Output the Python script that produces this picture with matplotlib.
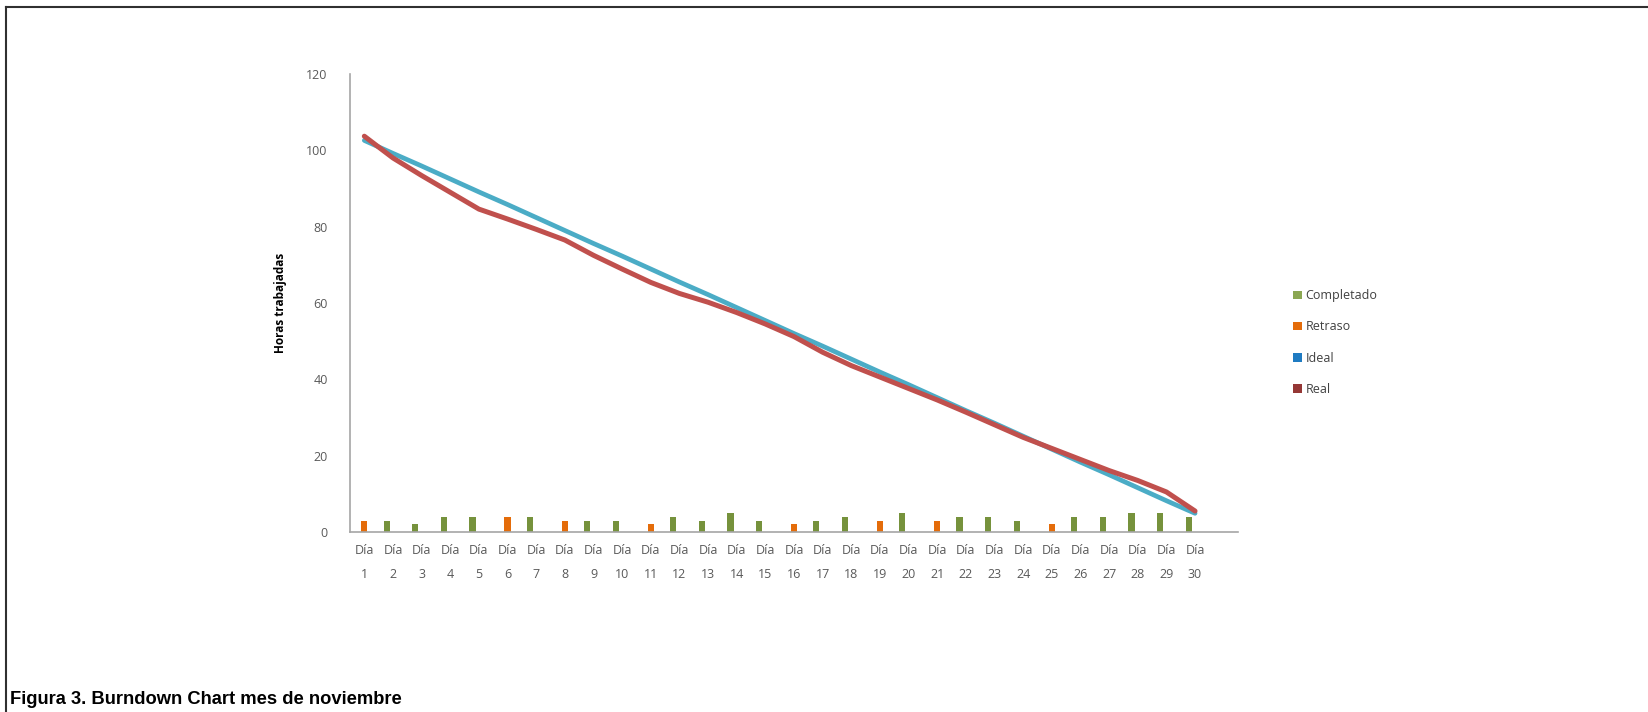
import numpy as np
import matplotlib
matplotlib.use("Agg")
import matplotlib.pyplot as plt
from matplotlib.lines import Line2D
from matplotlib.patches import Patch

# ---- data ----
days = [f"Día\n{i}" for i in range(1, 31)]
completado = [np.nan, 3, 2, 4, 4, np.nan, 4, np.nan, 3, 3, np.nan, 4, 3, 5, 3,
              np.nan, 3, 4, np.nan, 5, np.nan, 4, 4, 3, np.nan, 4, 4, 5, 5, 4]
retraso = [3, np.nan, np.nan, np.nan, np.nan, 4, np.nan, 3, np.nan, np.nan, 2, np.nan, np.nan, np.nan, np.nan,
           2, np.nan, np.nan, 3, np.nan, 3, np.nan, np.nan, np.nan, 2, np.nan, np.nan, np.nan, np.nan, np.nan]
ideal = [102.6, 99.2, 95.9, 92.5, 89.1, 85.8, 82.4, 79.0, 75.6, 72.3, 68.9, 65.5, 62.2, 58.8, 55.4,
         52.0, 48.7, 45.3, 41.9, 38.6, 35.2, 31.8, 28.5, 25.1, 21.7, 18.3, 15.0, 11.6, 8.2, 4.9]
real = [103.7, 98.0, 93.4, 89.0, 84.6, 82.0, 79.3, 76.5, 72.5, 68.9, 65.4, 62.5, 60.2, 57.5, 54.5,
        51.2, 47.1, 43.6, 40.6, 37.6, 34.6, 31.4, 28.1, 24.8, 21.9, 19.0, 16.1, 13.5, 10.5, 5.5]
yticks = [0, 20, 40, 60, 80, 100, 120]

W, H = 1649, 712
fig = plt.figure(figsize=(W / 100, H / 100), dpi=100)
fig.patch.set_facecolor("white")

ax = fig.add_axes([350 / W, (H - 532) / H, (1238 - 350) / W, (532 - 74) / H])
x = np.arange(1, len(days) + 1)

green = "#76923C"
orange = "#E46C0A"
bw = 0.22
ax.bar(x - bw, completado, width=bw, color=green, zorder=2)
ax.bar(x, retraso, width=bw, color=orange, zorder=2)
ax.plot(x, ideal, color="#4BACC6", lw=3.4, solid_capstyle="round", solid_joinstyle="round", zorder=3)
ax.plot(x, real, color="#C0504D", lw=3.6, solid_capstyle="round", solid_joinstyle="round", zorder=4)

ax.set_xlim(0.5, 31.5)
ax.set_ylim(0, 120)
ax.set_yticks(yticks)
ax.set_xticks(x)
ax.set_xticklabels(days, fontsize=9, color="#595959", family="Open Sans", linespacing=2.1)
for lbl in ax.get_yticklabels():
    lbl.set_fontsize(9)
    lbl.set_color("#595959")
    lbl.set_family("Open Sans")
ax.tick_params(axis="both", length=0)
ax.tick_params(axis="x", pad=9)
ax.tick_params(axis="y", pad=16)
for s in ["top", "right"]:
    ax.spines[s].set_visible(False)
for s in ["left", "bottom"]:
    ax.spines[s].set_color("#A6A6A6")
    ax.spines[s].set_linewidth(1.2)
ax.set_ylabel("Horas trabajadas", fontsize=8.5, fontweight="bold", family="Open Sans", labelpad=14)

handles = [Patch(facecolor="#8BA752", label="Completado"),
           Patch(facecolor=orange, label="Retraso"),
           Patch(facecolor="#1F7BC2", label="Ideal"),
           Patch(facecolor="#953735", label="Real")]
leg = fig.legend(handles=handles, loc="upper left", bbox_to_anchor=(1282 / W, (H - 278) / H),
                 frameon=False, handlelength=0.7, handleheight=0.7, handletextpad=0.3,
                 labelspacing=1.45, prop={"family": "Open Sans", "size": 9})
for t in leg.get_texts():
    t.set_color("#404040")

# frame lines
fig.add_artist(Line2D([6 / W, 6 / W], [0, 1 - 7 / H], color="#303030", lw=1.5))
fig.add_artist(Line2D([6 / W, 1], [1 - 7 / H, 1 - 7 / H], color="#303030", lw=1.5))

fig.text(10 / W, (H - 700) / H, "Figura 3. Burndown Chart mes de noviembre",
         fontsize=13.2, family="Liberation Sans", fontweight="bold", color="black", va="center", ha="left")

fig.savefig("out.png", dpi=100, facecolor="white")
